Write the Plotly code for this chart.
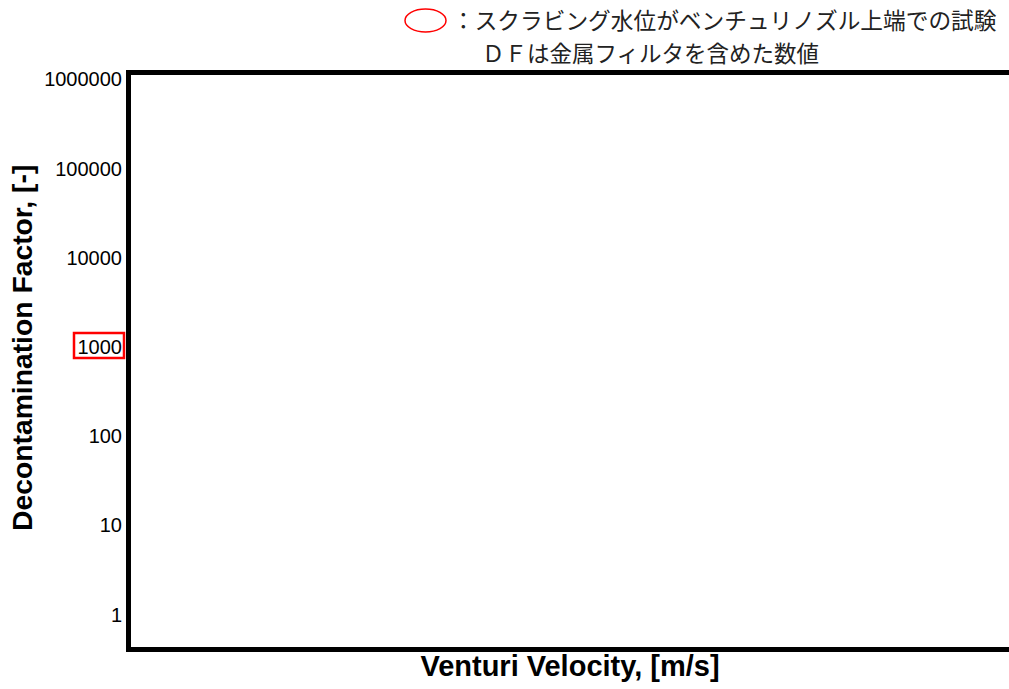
import plotly.graph_objects as go

# Data (the reference chart shows an empty plot area)
venturi_velocity = []
decontamination_factor = []

y_tick_values = [1, 10, 100, 1000, 10000, 100000, 1000000]
y_tick_labels = ["1", "10", "100", "1000", "10000", "100000", "1000000"]

note_line1 = "：スクラビング水位がベンチュリノズル上端での試験"
note_line2 = "ＤＦは金属フィルタを含めた数値"
x_title = "Venturi Velocity, [m/s]"
y_title = "Decontamination Factor, [-]"

W, H = 1009, 689
L, R, T, B = 131, 0, 75, 42
PW, PH = W - L - R, H - T - B


def px(x):
    return (x - L) / PW


def py(y):
    return (H - B - y) / PH


fig = go.Figure()
fig.add_trace(go.Scatter(x=venturi_velocity, y=decontamination_factor,
                         mode="markers", showlegend=False))

fig.update_layout(
    width=W, height=H,
    margin=dict(l=L, r=R, t=T, b=B),
    paper_bgcolor="white", plot_bgcolor="white",
    showlegend=False,
    font=dict(family="Liberation Sans, Arial, sans-serif", color="black"),
)

fig.update_xaxes(
    range=[0, 1], showgrid=False, zeroline=False, showticklabels=False,
    ticks="", showline=True, linewidth=5, linecolor="black", mirror=True,
    title=dict(text=x_title, font=dict(size=29, family="Liberation Sans, Arial", weight="bold"),
               standoff=6),
)
fig.update_yaxes(
    type="log", range=[-0.364, 6.05], showgrid=False, zeroline=False,
    tickvals=y_tick_values, ticktext=y_tick_labels, ticks="",
    tickfont=dict(size=20), showline=True, linewidth=5, linecolor="black",
)

# y-axis title (placed as annotation to match its position off-centre)
fig.add_annotation(text=y_title, xref="paper", yref="paper",
                   x=px(22), y=py(348), xanchor="center", yanchor="middle",
                   textangle=-90, showarrow=False,
                   font=dict(size=28.3, family="Liberation Sans, Arial", weight="bold",
                             color="black"))

# red box around the 1000 tick label
fig.add_shape(type="rect", xref="paper", yref="paper",
              x0=px(74), x1=px(124), y0=py(358), y1=py(333),
              line=dict(color="red", width=2.5), fillcolor="rgba(0,0,0,0)")
# red ellipse in note
fig.add_shape(type="circle", xref="paper", yref="paper",
              x0=px(405), x1=px(446), y0=py(32), y1=py(9),
              line=dict(color="red", width=1.5))

fig.add_annotation(text=note_line1, xref="paper", yref="paper",
                   x=px(450), y=py(20), xanchor="left", yanchor="middle",
                   showarrow=False,
                   font=dict(size=22.7, family="Noto Sans CJK JP", color="#222"))
fig.add_annotation(text=note_line2, xref="paper", yref="paper",
                   x=px(480), y=py(52), xanchor="left", yanchor="middle",
                   showarrow=False,
                   font=dict(size=22.5, family="Noto Sans CJK JP", color="#222"))

fig.write_html("out.html", config={"displayModeBar": False},
               post_script="document.body.style.margin='0';document.body.style.overflow='hidden';")
